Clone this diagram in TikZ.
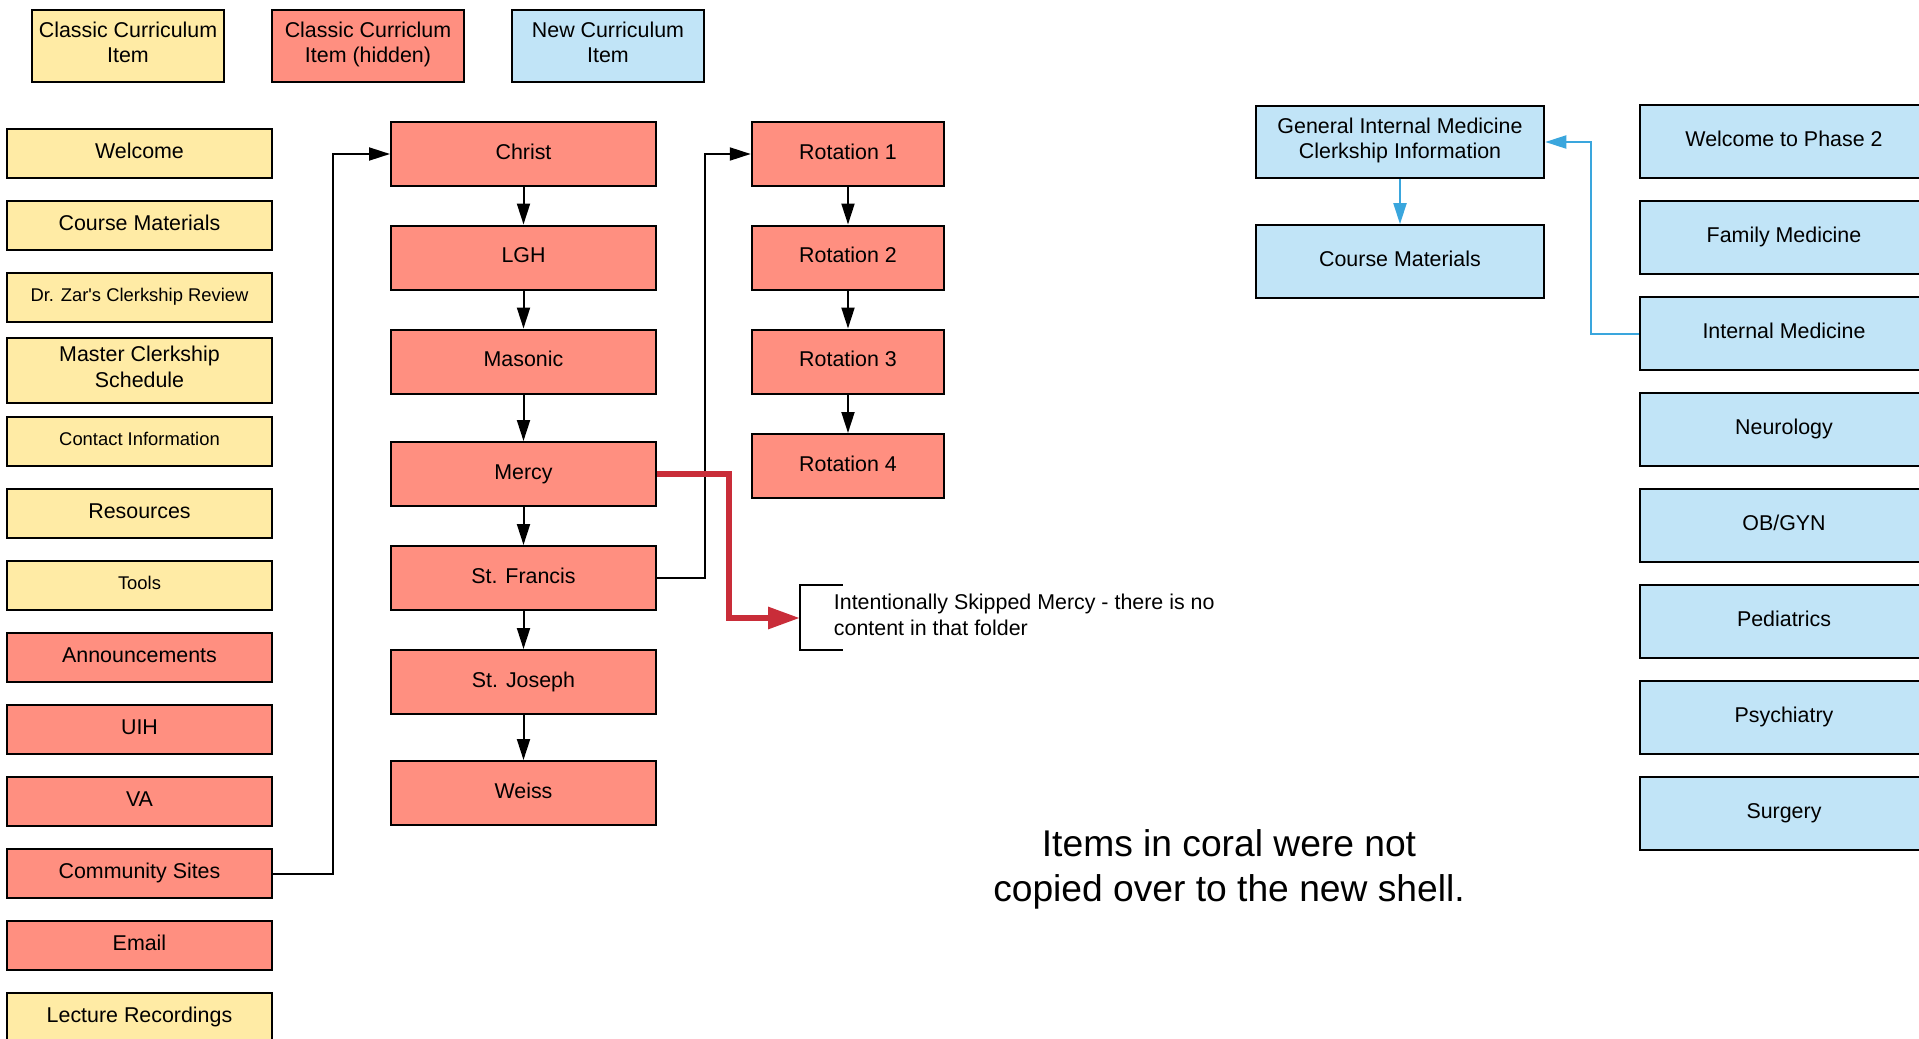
\documentclass[tikz,border=0pt]{standalone}
\usepackage{fontspec}
\setmainfont{Liberation Sans}
\usetikzlibrary{arrows.meta}
\definecolor{cyellow}{RGB}{255,235,165}
\definecolor{ccoral}{RGB}{255,143,128}
\definecolor{cblue}{RGB}{193,228,247}
\definecolor{cred}{RGB}{201,45,57}
\definecolor{cline}{RGB}{58,166,221}
\begin{document}
\begin{tikzpicture}[x=0.5pt,y=-0.5pt,
  box/.style={draw=black,line width=1pt,inner sep=0pt,align=center,font=\fontsize{10.7}{12.85}\selectfont,execute at begin node=\strut},
  yb/.style={box,fill=cyellow},
  cb/.style={box,fill=ccoral},
  bb/.style={box,fill=cblue},
  lw/.style={minimum width=132.5pt,minimum height=24.5pt},
  small/.style={font=\fontsize{9.2}{11}\selectfont},
  lg/.style={minimum width=96pt,minimum height=36pt},
  mw/.style={minimum width=132.5pt,minimum height=32pt},
  rw/.style={minimum width=96.25pt,minimum height=32pt},
  gw/.style={minimum width=144.25pt,minimum height=36.35pt},
  pw/.style={minimum width=144.5pt,minimum height=36.5pt},
  arr/.style={draw=black,line width=1pt,-{Triangle[length=10.5pt,width=6.5pt]}},
  barr/.style={draw=cline,line width=1pt,-{Triangle[length=10.5pt,width=6.5pt]}},
  rarr/.style={draw=cred,line width=3pt,line join=miter,-{Triangle[length=16pt,width=10.5pt]}}
]
\clip (0,0) rectangle (1919,1039);
\fill[white] (0,0) rectangle (1919,1039);

% legend
\node[yb,lg] (lgY) at (128,46) {Classic Curriculum\\Item\strut};
\node[cb,lg] (lgC) at (368,46) {Classic Curriclum\\Item (hidden)\strut};
\node[bb,lg] (lgB) at (608,46) {New Curriculum\\Item\strut};

% left column
\node[yb,lw] (welcome) at (139.5,153.5) {Welcome};
\node[yb,lw] (cm) at (139.5,225.5) {Course Materials};
\node[yb,lw,small] (zar) at (139.5,297.5) {Dr. Zar\textquotesingle s Clerkship Review};
\node[yb,lw,minimum height=32.5pt] (master) at (139.5,370.5) {Master Clerkship\\Schedule\strut};
\node[yb,lw,small] (contact) at (139.5,441.5) {Contact Information};
\node[yb,lw] (resources) at (139.5,513) {Resources};
\node[yb,lw,small] (tools) at (139.5,585) {Tools};
\node[cb,lw] (announce) at (139.5,657.5) {Announcements};
\node[cb,lw] (uih) at (139.5,729.5) {UIH};
\node[cb,lw] (va) at (139.5,801.5) {VA};
\node[cb,lw] (community) at (139.5,873.5) {Community Sites};
\node[cb,lw] (email) at (139.5,945.5) {Email};
\node[yb,lw] (lecture) at (139.5,1017.5) {Lecture Recordings};

% middle column
\node[cb,mw] (christ) at (523.5,154) {Christ};
\node[cb,mw] (lgh) at (523.5,257.5) {LGH};
\node[cb,mw] (masonic) at (523.5,361.5) {Masonic};
\node[cb,mw] (mercy) at (523.5,474) {Mercy};
\node[cb,mw] (francis) at (523.5,578) {St. Francis};
\node[cb,mw] (joseph) at (523.5,682) {St. Joseph};
\node[cb,mw] (weiss) at (523.5,793) {Weiss};

% rotations
\node[cb,rw] (rot1) at (848,154) {Rotation 1};
\node[cb,rw] (rot2) at (848,257.5) {Rotation 2};
\node[cb,rw] (rot3) at (848,361.5) {Rotation 3};
\node[cb,rw] (rot4) at (848,466) {Rotation 4};

% new curriculum
\node[bb,gw] (gim) at (1400,142) {General Internal Medicine\\Clerkship Information\strut};
\node[bb,gw] (cm2) at (1400,261.5) {Course Materials};

\node[bb,pw] (wp2) at (1784,141.3) {Welcome to Phase 2};
\node[bb,pw] (fam) at (1784,237.5) {Family Medicine};
\node[bb,pw] (im) at (1784,333.5) {Internal Medicine};
\node[bb,pw] (neuro) at (1784,429.5) {Neurology};
\node[bb,pw] (obgyn) at (1784,525.5) {OB/GYN};
\node[bb,pw] (ped) at (1784,621.5) {Pediatrics};
\node[bb,pw] (psy) at (1784,717.5) {Psychiatry};
\node[bb,pw] (surg) at (1784,813.5) {Surgery};

% note
\node[anchor=west,align=left,inner sep=0pt,font=\fontsize{10.7}{12.85}\selectfont] (note) at (833.5,615) {Intentionally Skipped Mercy - there is no\\content in that folder};
\coordinate (brk) at (800,618);
\draw[line width=1pt] (842.6,585) -- (800,585) -- (800,650) -- (842.6,650);

\node[align=center,inner sep=0pt,font=\fontsize{18.6}{22.6}\selectfont] (foot) at (1229,869.5) {Items in coral were not\\copied over to the new shell.};

% connectors
\draw[arr] (christ) -- (lgh);
\draw[arr] (lgh) -- (masonic);
\draw[arr] (masonic) -- (mercy);
\draw[arr] (mercy) -- (francis);
\draw[arr] (francis) -- (joseph);
\draw[arr] (joseph) -- (weiss);
\draw[arr] (rot1) -- (rot2);
\draw[arr] (rot2) -- (rot3);
\draw[arr] (rot3) -- (rot4);
\draw[arr] (community.east) -- ++(59.7,0) |- (christ.west);
\draw[arr] (francis.east) -- ++(47.7,0) |- (rot1.west);
\draw[rarr] (mercy.east) -- ++(72,0) |- (brk);
\draw[barr] (im.west) -- ++(-48,0) |- (gim.east);
\draw[barr] (gim) -- (cm2);
\end{tikzpicture}
\end{document}
